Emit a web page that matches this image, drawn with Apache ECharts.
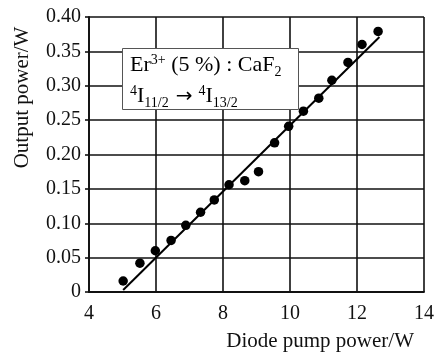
<!DOCTYPE html>
<html><head><meta charset="utf-8">
<script src="https://cdn.jsdelivr.net/npm/echarts@6/dist/echarts.min.js"></script>
<style>html,body{margin:0;padding:0;background:#fff}#c{width:437px;height:352px}</style>
</head><body><div id="c"></div>
<script>
// Measured points
const pumpPower = [5.02, 5.52, 5.98, 6.45, 6.89, 7.33, 7.74, 8.18, 8.65, 9.06, 9.54, 9.96, 10.40, 10.86, 11.25, 11.73, 12.15, 12.63];
const outputPower = [0.016, 0.042, 0.060, 0.075, 0.097, 0.116, 0.134, 0.156, 0.162, 0.175, 0.217, 0.241, 0.263, 0.282, 0.308, 0.334, 0.360, 0.379];
// Linear fit line end points
const fitX = [5.02, 12.67];
const fitY = [0.003, 0.371];
const xTicks = [4, 6, 8, 10, 12, 14];
const yTicks = [0, 0.05, 0.10, 0.15, 0.20, 0.25, 0.30, 0.35, 0.40];
const xName = 'Diode pump power/W';
const yName = 'Output power/W';

const F = 'Liberation Serif';
const chart = echarts.init(document.getElementById('c'), null, {renderer: 'canvas'});
chart.setOption({
  animation: false,
  backgroundColor: '#fff',
  grid: {left: 89, right: 7, top: 17, bottom: 60, show: false},
  xAxis: {
    type: 'value', min: xTicks[0], max: xTicks[xTicks.length - 1], interval: 2,
    name: xName, nameLocation: 'end', nameGap: -10,
    nameTextStyle: {fontFamily: F, fontSize: 21, color: '#111', align: 'right', verticalAlign: 'top', padding: [39, 0, 0, 0]},
    axisLine: {show: true, lineStyle: {color: '#111', width: 1.8}},
    axisTick: {show: false},
    axisLabel: {fontFamily: F, fontSize: 20, color: '#111', margin: 12},
    splitLine: {show: true, lineStyle: {color: '#111', width: 1.6}}
  },
  yAxis: {
    type: 'value', min: 0, max: 0.4, interval: 0.05,
    name: yName, nameLocation: 'middle', nameGap: 56,
    nameTextStyle: {fontFamily: F, fontSize: 21, color: '#111', padding: [0, 0, 0, 114]},
    axisLine: {show: true, lineStyle: {color: '#111', width: 1.8}},
    axisTick: {show: true, inside: false, length: 4, lineStyle: {color: '#111', width: 1.6}},
    axisLabel: {fontFamily: F, fontSize: 20, color: '#111', margin: 8,
      formatter: v => (Math.abs(v) < 1e-9 ? '0' : v.toFixed(2))},
    splitLine: {show: true, lineStyle: {color: '#111', width: 1.6}}
  },
  series: [
    {
      type: 'line', data: fitX.map((x, i) => [x, fitY[i]]),
      symbol: 'none', lineStyle: {color: '#000', width: 2}, z: 3
    },
    {
      type: 'scatter', data: pumpPower.map((x, i) => [x, outputPower[i]]),
      symbol: 'circle', symbolSize: 9.5, itemStyle: {color: '#000', opacity: 1}, z: 4
    }
  ],
  graphic: [
    {type: 'rect', shape: {x: 122.5, y: 48.5, width: 176, height: 61},
     style: {fill: '#fff', stroke: '#555', lineWidth: 1}, z: 10},
    {type: 'text', x: 130, y: 50, z: 11,
     style: {
       text: '{m|Er}{sup|3+}{m| (5 %) : CaF}{sub|2}\n{sup|4}{m|I}{sub|11/2}{ar|→}{sup|4}{m|I}{sub|13/2}',
       rich: {
         m: {fontFamily: F, fontSize: 22, color: '#111', lineHeight: 31, verticalAlign: 'middle'},
         ar: {fontFamily: 'DejaVu Sans', fontSize: 20, color: '#111', lineHeight: 31, verticalAlign: 'middle', padding: [0, 6, 0, 7]},
         sup: {fontFamily: F, fontSize: 14, color: '#111', lineHeight: 31, verticalAlign: 'top', padding: [3, 0, 0, 0]},
         sub: {fontFamily: F, fontSize: 14, color: '#111', lineHeight: 31, verticalAlign: 'bottom', padding: [0, 0, 2, 0]}
       }
     }}
  ]
});
</script></body></html>
